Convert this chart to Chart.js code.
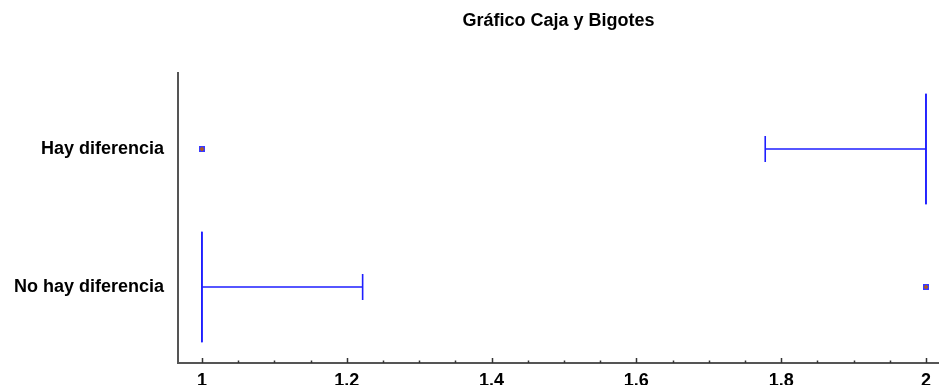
<!DOCTYPE html>
<html>
<head>
<meta charset="utf-8">
<title>Gráfico Caja y Bigotes</title>
<script src="https://cdn.jsdelivr.net/npm/chart.js@4/dist/chart.umd.min.js"></script>
<style>
  html, body { margin: 0; padding: 0; background: #ffffff; }
  #wrap { width: 939px; height: 385px; }
</style>
</head>
<body>
<div id="wrap"><canvas id="chart" width="939" height="385"></canvas></div>
<script>
// Box-and-whisker summary per group
const categories  = ['Hay diferencia', 'No hay diferencia'];
const whiskerLow  = [1.778, 1];
const q1          = [2, 1];
const median      = [2, 1];
const q3          = [2, 1];
const whiskerHigh = [2, 1.222];
const outliers    = [[1], [2]];

// Axis ticks on the value axis (labelled every 0.2, minor marks every 0.05)
const xTickValues = [];
for (let k = 0; k <= 20; k++) xTickValues.push(1 + k * 0.05);

const BLUE = 'rgb(30,30,255)';
const FONT = { family: "'Liberation Sans', Arial, sans-serif", size: 18, weight: 'bold' };
const BOX_HALF = 0.4;
const CAP_HALF = 0.095;

// Outlier marker: small blue square with a brown cross
function outlierMarker() {
  const c = document.createElement('canvas');
  c.width = 6; c.height = 6;
  const g = c.getContext('2d');
  g.fillStyle = '#3a3aff';
  g.fillRect(0, 0, 6, 6);
  g.fillStyle = '#a8582c';
  g.fillRect(2, 1, 2, 4);
  g.fillRect(1, 2, 4, 2);
  return c;
}

function seg(points) {
  return {
    data: points,
    showLine: true,
    borderColor: BLUE,
    borderWidth: 1.6,
    pointRadius: 0,
    pointHoverRadius: 0,
    tension: 0,
    fill: false
  };
}

const datasets = [];
categories.forEach((cat, i) => {
  // box outline (collapses to a single line when q1 == q3)
  datasets.push(seg([
    { x: q1[i], y: i - BOX_HALF }, { x: q3[i], y: i - BOX_HALF },
    { x: q3[i], y: i + BOX_HALF }, { x: q1[i], y: i + BOX_HALF },
    { x: q1[i], y: i - BOX_HALF }
  ]));
  // median
  datasets.push(seg([{ x: median[i], y: i - BOX_HALF }, { x: median[i], y: i + BOX_HALF }]));
  // lower whisker and cap
  if (whiskerLow[i] < q1[i]) {
    datasets.push(seg([{ x: whiskerLow[i], y: i }, { x: q1[i], y: i }]));
    datasets.push(seg([{ x: whiskerLow[i], y: i - CAP_HALF }, { x: whiskerLow[i], y: i + CAP_HALF }]));
  }
  // upper whisker and cap
  if (whiskerHigh[i] > q3[i]) {
    datasets.push(seg([{ x: q3[i], y: i }, { x: whiskerHigh[i], y: i }]));
    datasets.push(seg([{ x: whiskerHigh[i], y: i - CAP_HALF }, { x: whiskerHigh[i], y: i + CAP_HALF }]));
  }
});
// outside points
const marker = outlierMarker();
datasets.push({
  data: outliers.flatMap((vals, i) => vals.map(v => ({ x: v, y: i }))),
  showLine: false,
  pointStyle: marker,
  pointRadius: 3,
  pointHoverRadius: 3
});

// Short tick marks drawn upward from the bottom axis
const innerTicks = {
  id: 'innerTicks',
  afterDraw(chart) {
    const xs = chart.scales.x;
    const ctx = chart.ctx;
    const y0 = chart.chartArea.bottom;
    ctx.save();
    ctx.strokeStyle = '#333333';
    ctx.lineWidth = 1.5;
    xs.ticks.forEach(t => {
      const major = Math.abs(t.value * 5 - Math.round(t.value * 5)) < 1e-6;
      const px = Math.round(xs.getPixelForValue(t.value)) + 0.5;
      ctx.beginPath();
      ctx.moveTo(px, y0);
      ctx.lineTo(px, y0 - (major ? 5 : 2.5));
      ctx.stroke();
    });
    ctx.restore();
  }
};

new Chart(document.getElementById('chart'), {
  type: 'scatter',
  data: { datasets },
  plugins: [innerTicks],
  options: {
    responsive: false,
    animation: false,
    events: [],
    layout: { padding: 0, autoPadding: false },
    plugins: {
      legend: { display: false },
      tooltip: { enabled: false },
      title: {
        display: true,
        text: 'Gráfico Caja y Bigotes',
        fullSize: false,
        color: '#000000',
        font: FONT,
        padding: { top: 10, bottom: 41.4 }
      }
    },
    scales: {
      x: {
        type: 'linear',
        min: 0.967,
        max: 2.018,
        afterBuildTicks(scale) { scale.ticks = xTickValues.map(v => ({ value: v })); },
        afterFit(scale) {
          scale.height = 22;
          scale.paddingLeft = 0;
          scale.paddingRight = 0;
        },
        grid: { display: false, drawTicks: false },
        border: { display: true, color: '#555555', width: 2 },
        ticks: {
          autoSkip: false,
          maxRotation: 0,
          padding: 7,
          color: '#000000',
          font: FONT,
          callback(v) {
            const major = Math.abs(v * 5 - Math.round(v * 5)) < 1e-6;
            return major ? String(+v.toFixed(1)) : '';
          }
        }
      },
      y: {
        type: 'linear',
        reverse: true,
        min: -0.551,
        max: 1.551,
        afterBuildTicks(scale) { scale.ticks = categories.map((_, i) => ({ value: i })); },
        afterFit(scale) {
          scale.width = 178;
          scale.paddingTop = 0;
          scale.paddingBottom = 0;
        },
        grid: { display: false, drawTicks: false },
        border: { display: true, color: '#555555', width: 2 },
        ticks: {
          padding: 14,
          color: '#000000',
          font: FONT,
          callback(v) { return categories[v] !== undefined ? categories[v] : ''; }
        }
      }
    }
  }
});
</script>
</body>
</html>
